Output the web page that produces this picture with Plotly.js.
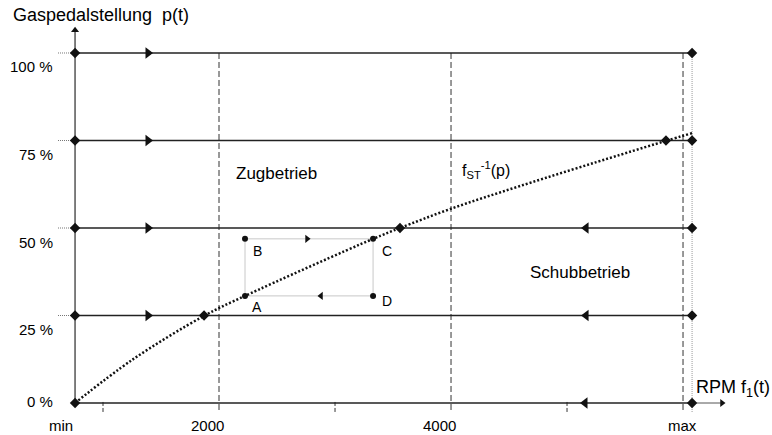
<!DOCTYPE html>
<html><head><meta charset="utf-8">
<script src="https://cdn.plot.ly/plotly-3.0.1.min.js"></script>
<style>html,body{margin:0;padding:0;background:#fff}#c{width:772px;height:435px}</style>
</head><body><div id="c"></div>
<script>
// ---- data (rpm on x, pedal position % on y) ----
const rpmMin = 759, rpmMax = 6078, rpmAxisEnd = 6336, rpmStubStart = 612;
const levels = [0, 25, 50, 75, 100];
const levelLabels = ['0 %', '25 %', '50 %', '75 %', '100 %'];
const xTickVals = [759, 2000, 4000, 6078];
const xTickText = ['min', '2000', '4000', 'max'];
const gridRpm = [2000, 4000, 6000];
const minorRpm = [1000, 3000, 5000];
const curveRpm = [759, 1250, 1871, 2224, 3328, 3560, 3991, 4595, 5457, 5853, 6078];
const curveP   = [0, 12.3, 24.9, 30.6, 46.9, 50, 55.4, 62.0, 70.9, 74.9, 77.1];
const crossRpm = [1871, 3560, 5853];
const crossP   = [25, 50, 75];
const rightArrowRpm = 1388;
const rightArrowLevels = [25, 50, 75, 100];
const leftArrowRpm = [5155, 5164, 5164];
const leftArrowLevels = [0, 25, 50];
const rectRpm = [2224, 2224, 3328, 3328];   // A, B, C, D
const rectP   = [30.6, 46.9, 46.9, 30.6];
const rectNames = ['A', 'B', 'C', 'D'];
const cycleArrowRpm = [2759, 2879];
const cycleArrowP = [46.9, 30.6];
const yAxisTop = 106.5;

const FONT = 'Arial, "Liberation Sans", sans-serif';
const traces = [];
function line(x, y, color, width, dash) {
  traces.push({x, y, type: 'scatter', mode: 'lines', hoverinfo: 'skip',
    line: {color, width, dash: dash || 'solid'}});
}
// dashed verticals
gridRpm.forEach(r => line([r, r], [100, -2.6], '#333', 1, '6px,3px'));
minorRpm.forEach(r => line([r, r], [0.3, -2.6], '#333', 1, '4px,2px'));
// max dotted vertical
line([rpmMax, rpmMax], [100, -2.6], '#999', 1, '1px,1px');
// stubs left of axis
levels.slice(1).forEach(l => line([rpmStubStart, rpmMin], [l, l], '#777', 1, '1px,1px'));
// level lines
levels.forEach(l => line([rpmMin, rpmMax], [l, l], '#222', 1.5));
// axis extensions
line([rpmMin, rpmMin], [0, yAxisTop], '#555', 1.5);
line([rpmMax, rpmAxisEnd], [0, 0], '#555', 1);
// rectangle cycle
line([rectRpm[0], rectRpm[1], rectRpm[2], rectRpm[3], rectRpm[0]],
     [rectP[0], rectP[1], rectP[2], rectP[3], rectP[0]], '#c8c8c8', 1);
// curve
traces.push({x: curveRpm, y: curveP, type: 'scatter', mode: 'lines', hoverinfo: 'skip',
  line: {color: '#111', width: 2.5, dash: '2px,2px', shape: 'spline', smoothing: 1}});
// markers
function marks(x, y, symbol, size) {
  traces.push({x, y, type: 'scatter', mode: 'markers', hoverinfo: 'skip',
    marker: {symbol, size, color: '#111', line: {width: 0}}});
}
marks(levels.map(() => rpmMin), levels, 'diamond', 8);
marks(levels.map(() => rpmMax), levels, 'diamond', 8);
marks(crossRpm, crossP, 'diamond', 8);
marks(rightArrowLevels.map(() => rightArrowRpm), rightArrowLevels, 'triangle-right', 10);
marks(leftArrowRpm, leftArrowLevels, 'triangle-left', 10);
marks(rectRpm, rectP, 'circle', 6);
marks([cycleArrowRpm[0]], [cycleArrowP[0]], 'triangle-right', 7);
marks([cycleArrowRpm[1]], [cycleArrowP[1]], 'triangle-left', 7);
marks([rpmMin], [yAxisTop], 'triangle-up', 7);
marks([rpmAxisEnd], [0], 'triangle-right', 7);

// ---- text ----
const W = 772, H = 435;
const px = x => x / W, py = y => 1 - y / H;
const ann = [];
function txt(text, x, y, size, xanchor) {
  ann.push({text, x: px(x), y: py(y), xref: 'paper', yref: 'paper', showarrow: false,
    xanchor: xanchor || 'center', yanchor: 'middle', font: {family: FONT, size, color: '#000'}});
}
txt('Gaspedalstellung  p(t)', 11, 15, 18, 'left');
levels.forEach((l, i) => ann.push({text: levelLabels[i], x: px(55), y: l, xref: 'paper', yref: 'y',
  yshift: l === 0 ? 2 : -14, showarrow: false, xanchor: 'right', yanchor: 'middle',
  font: {family: FONT, size: 15, color: '#000'}}));
xTickVals.forEach((v, i) => ann.push({text: xTickText[i], x: v, y: py(425), xref: 'x', yref: 'paper',
  xshift: i === 0 ? -14 : (i === 3 ? -10 : -12), showarrow: false, xanchor: 'center', yanchor: 'middle',
  font: {family: FONT, size: 15, color: '#000'}}));
txt('RPM f<sub>1</sub>(t)', 694, 388, 18, 'left');
txt('Zugbetrieb', 276, 173, 17);
txt('Schubbetrieb', 580, 272, 17);
txt('f<sub>ST</sub><sup>-1</sup>(p)', 486, 170, 16);
const rectLabelPos = [[257, 307], [257, 251], [387, 251], [387, 301]];
rectNames.forEach((n, i) => txt(n, rectLabelPos[i][0], rectLabelPos[i][1], 14));

Plotly.newPlot('c', traces, {
  width: W, height: H, margin: {l: 0, r: 0, t: 0, b: 0},
  paper_bgcolor: '#fff', plot_bgcolor: '#fff', showlegend: false,
  xaxis: {range: [112, 6767], visible: false, fixedrange: true},
  yaxis: {range: [-9.14, 115.14], visible: false, fixedrange: true},
  annotations: ann
}, {staticPlot: true});
</script></body></html>
